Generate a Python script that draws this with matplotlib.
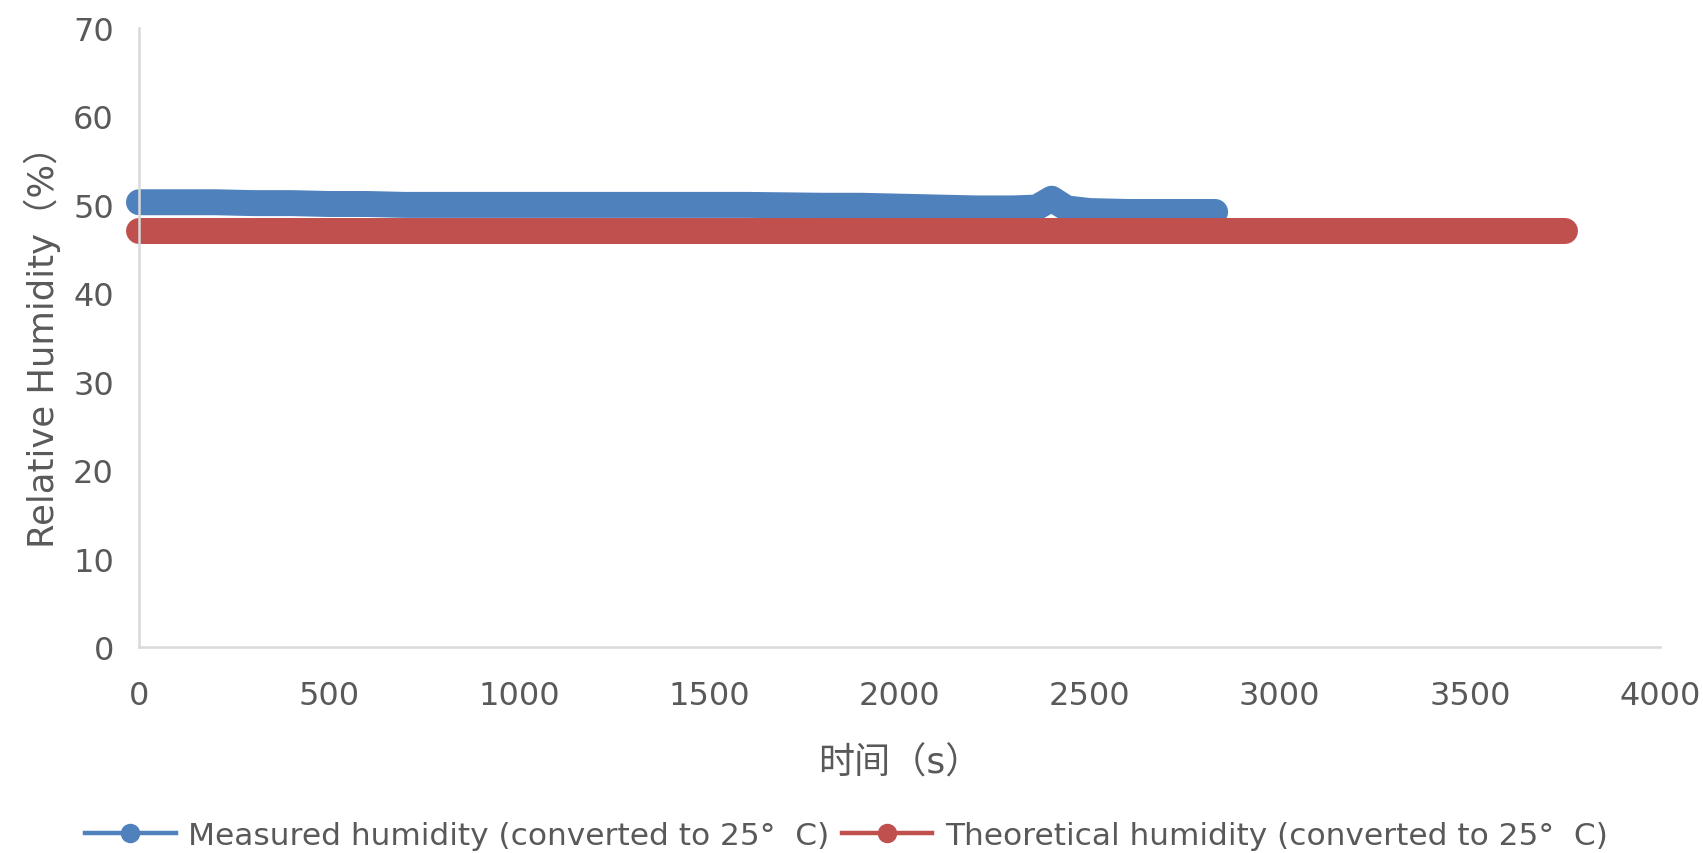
import matplotlib
matplotlib.use("Agg")
import matplotlib.pyplot as plt
from matplotlib.lines import Line2D

plt.rcParams['font.family'] = ['DejaVu Sans', 'Noto Sans CJK SC']

# Measured humidity
measured_t = [0, 100, 200, 300, 400, 500, 600, 700, 800, 900, 1000, 1100,
              1200, 1300, 1400, 1500, 1600, 1700, 1800, 1900, 2000, 2100,
              2200, 2300, 2360, 2400, 2440, 2500, 2600, 2700, 2800, 2830]
measured_rh = [50.3, 50.3, 50.3, 50.2, 50.2, 50.1, 50.1, 50.0, 50.0, 50.0,
               50.0, 50.0, 50.0, 50.0, 50.0, 50.0, 50.0, 49.95, 49.9, 49.9,
               49.8, 49.7, 49.6, 49.6, 49.7, 50.7, 49.6, 49.3, 49.2, 49.2,
               49.2, 49.2]

# Theoretical humidity
theory_t = [0, 250, 500, 750, 1000, 1250, 1500, 1750, 2000, 2250, 2500,
            2750, 3000, 3250, 3500, 3750]
theory_rh = [47.0, 47.0, 47.0, 47.0, 47.0, 47.0, 47.0, 47.0, 47.0, 47.0,
             47.0, 47.0, 47.0, 47.0, 47.0, 47.0]

labels = ["Measured humidity (converted to 25°  C)",
          "Theoretical humidity (converted to 25°  C)"]
blue = "#4F81BD"
red = "#C0504D"
grey = "#595959"

fig = plt.figure(figsize=(17.03, 8.54), dpi=100)
ax = fig.add_axes([0.0816, 0.2412, 0.8932, 0.7248])

band = 18.7  # thick band, like densely packed markers
ax.plot(measured_t, measured_rh, color=blue, lw=band, clip_on=False,
        solid_capstyle="round", solid_joinstyle="round")
ax.plot(theory_t, theory_rh, color=red, lw=band, clip_on=False,
        solid_capstyle="round", solid_joinstyle="round")

ax.set_xlim(0, 4000)
ax.set_ylim(0, 70)
ax.set_xticks(range(0, 4001, 500))
ax.set_yticks(range(0, 71, 10))

for s in ["top", "right"]:
    ax.spines[s].set_visible(False)
for s in ["left", "bottom"]:
    ax.spines[s].set_color("#D9D9D9")
    ax.spines[s].set_linewidth(1.8)

ax.tick_params(axis="both", length=0, labelsize=23, labelcolor=grey)
ax.tick_params(axis="x", pad=24)
ax.tick_params(axis="y", pad=18)

ax.set_xlabel("时间（s）", fontsize=26, color=grey, labelpad=24)
ax.set_ylabel("Relative Humidity（%）", fontsize=25.5, color=grey, labelpad=9)

handles = [Line2D([], [], color=blue, lw=3.2, marker="o", ms=13),
           Line2D([], [], color=red, lw=3.2, marker="o", ms=13)]
fig.legend(handles, labels, loc="center", bbox_to_anchor=(0.497, 0.021),
           ncol=2, frameon=False, fontsize=22.5, labelcolor=grey,
           handlelength=2.9, handletextpad=0.4, columnspacing=0.4)

fig.savefig("out.png", dpi=100)
